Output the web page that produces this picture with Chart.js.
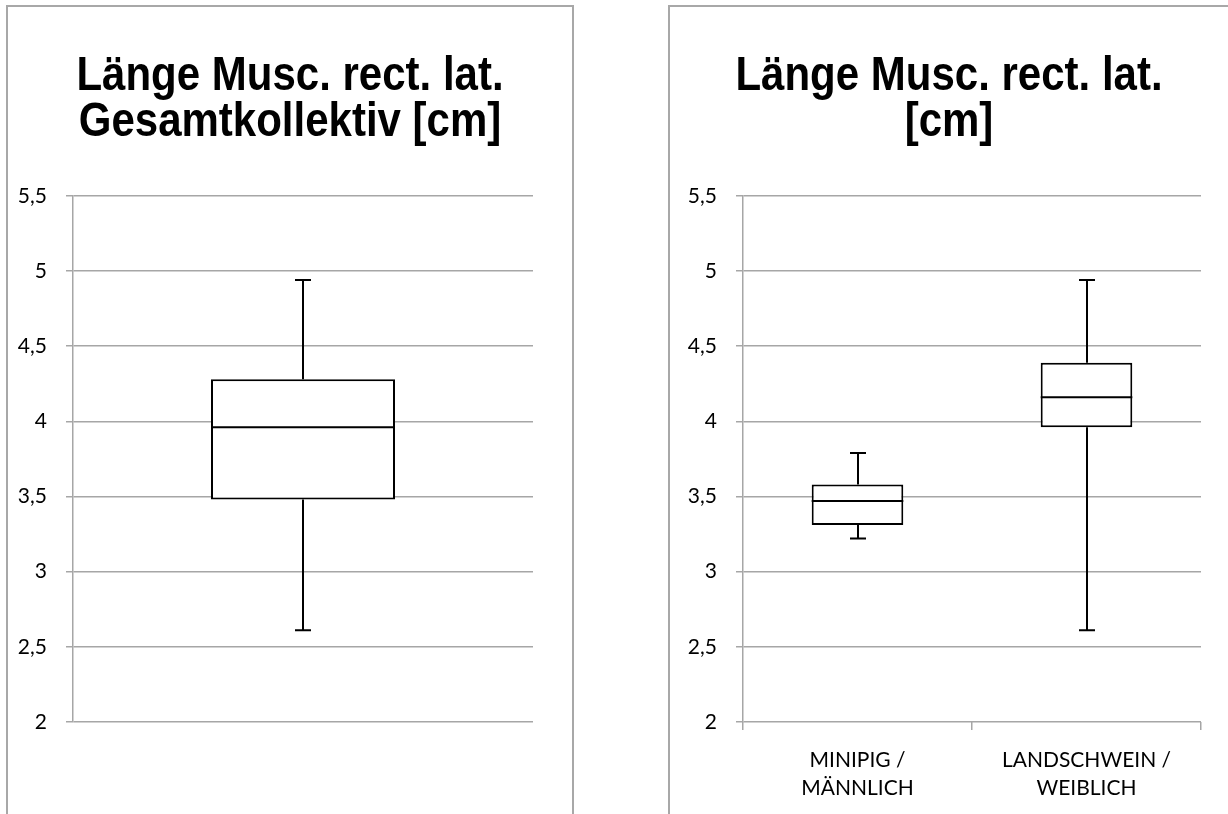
<!DOCTYPE html>
<html>
<head>
<meta charset="utf-8">
<script src="https://cdn.jsdelivr.net/npm/chart.js@4"></script>
<style>
  html, body { margin: 0; padding: 0; background: #fff; width: 1228px; height: 814px; overflow: hidden; }
  .panel { position: absolute; border: 2px solid #a8a8a8; background: #fff; }
  #p1 { left: 6px; top: 5px; width: 564px; height: 900px; }
  #p2 { left: 668px; top: 5px; width: 600px; height: 900px; }
  canvas { position: absolute; }
  #c1 { left: 8px; top: 7px; }
  #c2 { left: 670px; top: 7px; }
</style>
</head>
<body>
<div class="panel" id="p1"></div>
<div class="panel" id="p2"></div>
<canvas id="c1" width="564" height="807"></canvas>
<canvas id="c2" width="558" height="807"></canvas>
<script>
// ---- data ----
const titleAll = ['Länge Musc. rect. lat.', 'Gesamtkollektiv [cm]'];
const titleGroups = ['Länge Musc. rect. lat.', '[cm]'];
const yTickLabels = ['2', '2,5', '3', '3,5', '4', '4,5', '5', '5,5'];

const allCategories = [''];
const allMin = [2.61];
const allQ1 = [3.48];
const allMedian = [3.96];
const allQ3 = [4.28];
const allMax = [4.94];

const groupCategories = [['MINIPIG /', 'MÄNNLICH'], ['LANDSCHWEIN /', 'WEIBLICH']];
const groupMin = [3.22, 2.61];
const groupQ1 = [3.31, 3.96];
const groupMedian = [3.47, 4.16];
const groupQ3 = [3.58, 4.39];
const groupMax = [3.79, 4.94];

// ---- drawing helpers ----
const GRID = '#a6a6a6';
const TITLE_STRETCH = 1.15;

const whiskerPlugin = {
  id: 'whiskers',
  afterDatasetsDraw(chart) {
    const ds = chart.data.datasets[0];
    const meta = chart.getDatasetMeta(0);
    const y = chart.scales.y;
    const ctx = chart.ctx;
    ctx.save();
    ctx.strokeStyle = '#000';
    ctx.lineWidth = 2;
    ctx.lineCap = 'butt';
    meta.data.forEach((bar, i) => {
      const x = Math.round(bar.x);
      const half = bar.width / 2;
      const cap = 8;
      const pMin = y.getPixelForValue(ds.whMin[i]);
      const pMax = y.getPixelForValue(ds.whMax[i]);
      const pQ1 = y.getPixelForValue(ds.data[i][0]);
      const pQ3 = y.getPixelForValue(ds.data[i][1]);
      const pMed = y.getPixelForValue(ds.median[i]);
      ctx.beginPath();
      ctx.moveTo(x, pQ3); ctx.lineTo(x, pMax);
      ctx.moveTo(x - cap, pMax); ctx.lineTo(x + cap, pMax);
      ctx.moveTo(x, pQ1); ctx.lineTo(x, pMin);
      ctx.moveTo(x - cap, pMin); ctx.lineTo(x + cap, pMin);
      ctx.moveTo(bar.x - half, pMed); ctx.lineTo(bar.x + half, pMed);
      ctx.stroke();
    });
    ctx.restore();
  }
};

// the reference title glyphs are slightly taller than plain Arial: stretch the
// library's own title block vertically when it is drawn
const titleStretchPlugin = {
  id: 'titleStretch',
  beforeDraw(chart) {
    const tb = chart.titleBlock;
    if (tb && !tb._stretched) {
      const orig = tb.draw.bind(tb);
      tb.draw = function () {
        const ctx = this.ctx;
        ctx.save();
        ctx.translate(0, this.top);
        ctx.scale(1, TITLE_STRETCH);
        ctx.translate(0, -this.top);
        orig();
        ctx.restore();
      };
      tb._stretched = true;
    }
  }
};

function makeChart(id, title, categories, mins, q1, med, q3, maxs, showX, leftW, rightPad) {
  return new Chart(document.getElementById(id), {
    type: 'bar',
    data: {
      labels: categories,
      datasets: [{
        data: q1.map((v, i) => [v, q3[i]]),
        whMin: mins, whMax: maxs, median: med,
        backgroundColor: '#ffffff',
        borderColor: '#000000',
        borderWidth: 2,
        borderSkipped: false,
        barPercentage: 0.4,
        categoryPercentage: 1.0
      }]
    },
    options: {
      responsive: false,
      animation: false,
      events: [],
      layout: { padding: 0 },
      plugins: {
        legend: { display: false },
        tooltip: { enabled: false },
        title: {
          display: true,
          text: title,
          color: '#000',
          font: { family: '"Liberation Sans", Arial, sans-serif', size: 42, weight: 'bold', lineHeight: 0.95 },
          padding: { top: 41, bottom: 68 }
        }
      },
      scales: {
        x: {
          display: true,
          grid: { display: showX, drawOnChartArea: false, drawTicks: true, tickLength: 8, color: GRID, lineWidth: 1.5, offset: true },
          border: { display: false },
          ticks: { display: showX, color: '#000', padding: 16, maxRotation: 0, autoSkip: false,
                   font: { family: 'Lato, "Open Sans", sans-serif', size: 21, lineHeight: 1.333 } },
          afterFit(s) { s.height = 92; }
        },
        y: {
          min: 2, max: 5.5,
          ticks: {
            stepSize: 0.5, color: '#000', padding: 19,
            font: { family: 'Lato, "Open Sans", sans-serif', size: 21 },
            callback: (v, i) => yTickLabels[i]
          },
          grid: { color: GRID, lineWidth: 1.5, tickLength: 7, drawTicks: true },
          border: { display: true, color: GRID, width: 1.5 },
          afterFit(s) { s.width = leftW; }
        },
        yr: {
          position: 'right',
          display: true,
          grid: { display: false },
          border: { display: false },
          ticks: { display: false },
          afterFit(s) { s.width = rightPad; }
        }
      }
    },
    plugins: [whiskerPlugin, titleStretchPlugin]
  });
}

makeChart('c1', titleAll, allCategories, allMin, allQ1, allMedian, allQ3, allMax, false, 65, 39);
makeChart('c2', titleGroups, groupCategories, groupMin, groupQ1, groupMedian, groupQ3, groupMax, true, 73, 27);
</script>
</body>
</html>
